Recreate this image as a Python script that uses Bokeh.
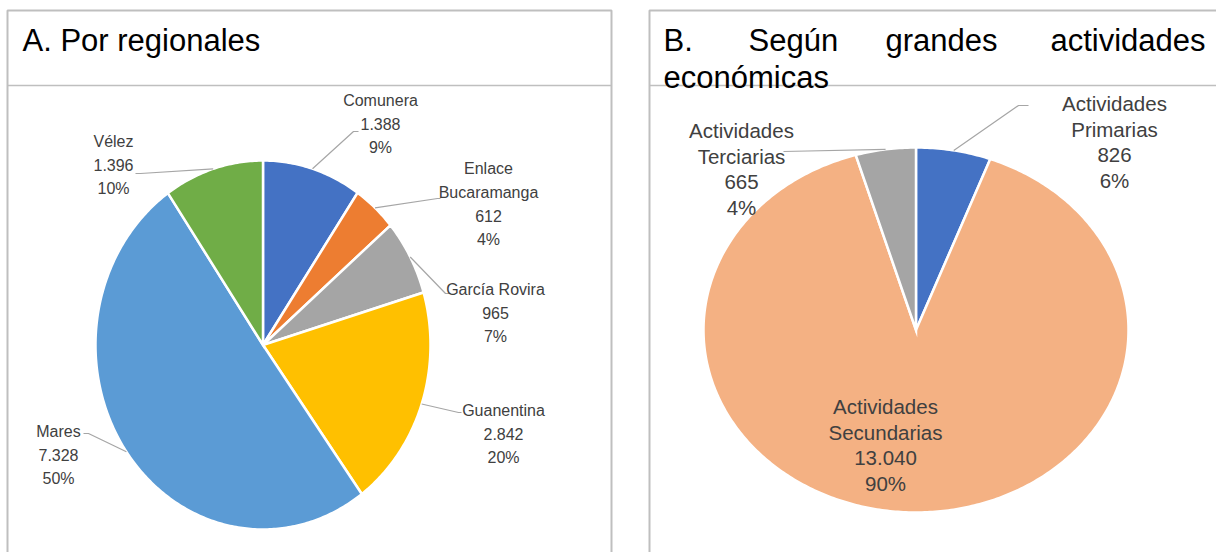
import numpy as np
from bokeh.plotting import figure
from bokeh.models import Range1d
from bokeh.core.properties import value
from bokeh.embed import file_html
from bokeh.resources import INLINE

# ---------------- data ----------------
regiones = ["Comunera", "Enlace Bucaramanga", "García Rovira", "Guanentina", "Mares", "Vélez"]
valores_reg = [1388, 612, 965, 2842, 7328, 1396]
pct_reg = [9, 4, 7, 20, 50, 10]

actividades = ["Actividades Primarias", "Actividades Secundarias", "Actividades Terciarias"]
valores_act = [826, 13040, 665]
pct_act = [6, 90, 4]

titulo_a = "A. Por regionales"
titulo_b_linea1 = ["B.", "Según", "grandes", "actividades"]
titulo_b_linea2 = "económicas"

# ---------------- styles / layout ----------------
colores_reg = ["#4472C4", "#ED7D31", "#A5A5A5", "#FFC000", "#5B9BD5", "#70AD47"]
colores_act = ["#4472C4", "#F4B183", "#A5A5A5"]
wrap_reg = [False, True, False, False, False, False]
wrap_act = [True, True, True]

# label centre x, first line y, leader elbow, leader end
lab_reg_x = [380, 488, 495, 503, 58, 113]
lab_reg_y = [100, 168, 289, 410, 431, 141]
elb_reg = [(353, 131), (437, 198), (445, 293), (458, 412), (88, 433), (140, 173)]
end_reg = [(358, 131), (440, 198), (450, 293), (461, 412), (83, 433), (135, 173)]

lab_act_x = [1114, 885, 741]
lab_act_y = [103, 406, 130]
elb_act = [(1018, 105), None, (783, 151)]
end_act = [(1028, 105), None, (783, 151)]

W, H = 1216, 552
p = figure(width=W, height=H, x_range=Range1d(0, W), y_range=Range1d(H, 0),
           output_backend="svg", toolbar_location=None, min_border=0)
p.axis.visible = False
p.grid.visible = False
p.outline_line_color = None
p.background_fill_color = "white"

BORDER = "#BFBFBF"
# panel frames
p.line([7, 7, 611, 611], [560, 10, 10, 560], line_color=BORDER, line_width=2)
p.line([7, 611], [85, 85], line_color=BORDER, line_width=1.5)
p.line([649, 649, 1220], [560, 10, 10], line_color=BORDER, line_width=2)
p.line([649, 1220], [85, 85], line_color=BORDER, line_width=1.5)

# titles
TF = "31px"
p.text([22], [40], text=[titulo_a], text_font=value("Liberation Sans"), text_font_size=TF,
       text_color="black", text_align="left", text_baseline="alphabetic")
p.text([663, 748, 885], [40, 40, 40], text=titulo_b_linea1[:3], text_font=value("Liberation Sans"),
       text_font_size=TF, text_color="black", text_align="left", text_baseline="alphabetic")
p.text([1205], [40], text=titulo_b_linea1[3:], text_font=value("Liberation Sans"),
       text_font_size=TF, text_color="black", text_align="right", text_baseline="alphabetic")
p.text([663], [77], text=[titulo_b_linea2], text_font=value("Liberation Sans"), text_font_size=TF,
       text_color="black", text_align="left", text_baseline="alphabetic")


def fmt(v):
    return f"{v:,}".replace(",", ".")


def pie(cx, cy, rx, ry, vals, colors):
    vals = np.asarray(vals, dtype=float)
    total = vals.sum()
    ends = np.cumsum(vals) / total * 2 * np.pi
    starts = np.concatenate([[0.0], ends[:-1]])
    xs, ys = [], []
    for a0, a1 in zip(starts, ends):
        t = np.linspace(a0, a1, max(int((a1 - a0) * 80), 6))
        xs.append([cx] + list(cx + rx * np.sin(t)))
        ys.append([cy] + list(cy - ry * np.cos(t)))
    p.patches(xs, ys, fill_color=colors, line_color="white", line_width=2.5, line_join="miter")
    mids = (starts + ends) / 2
    return cx + rx * np.sin(mids), cy - ry * np.cos(mids)


def labels(names, vals, pcts, wraps, lx, ly, elbs, ends, ex, ey, font, size, step):
    tx, ty, tt = [], [], []
    for i, n in enumerate(names):
        lines = (n.split(" ") if wraps[i] else [n]) + [fmt(vals[i]), f"{pcts[i]}%"]
        for k, s in enumerate(lines):
            tx.append(lx[i]); ty.append(ly[i] + k * step); tt.append(s)
        if elbs[i] is not None:
            p.line([ex[i], elbs[i][0], ends[i][0]], [ey[i], elbs[i][1], ends[i][1]],
                   line_color="#A6A6A6", line_width=1.2)
    p.text(tx, ty, text=tt, text_font=value(font), text_font_size=size, text_color="#404040",
           text_align="center", text_baseline="middle")


exa, eya = pie(262.5, 344.5, 167.5, 184.5, valores_reg, colores_reg)
labels(regiones, valores_reg, pct_reg, wrap_reg, lab_reg_x, lab_reg_y, elb_reg, end_reg,
       exa, eya, "Liberation Sans", "16px", 23.6)

exb, eyb = pie(915.5, 329.5, 212.5, 182.5, valores_act, colores_act)
labels(actividades, valores_act, pct_act, wrap_act, lab_act_x, lab_act_y, elb_act, end_act,
       exb, eyb, "Liberation Sans", "20.5px", 25.5)

open("out.html", "w").write(file_html(p, INLINE))
